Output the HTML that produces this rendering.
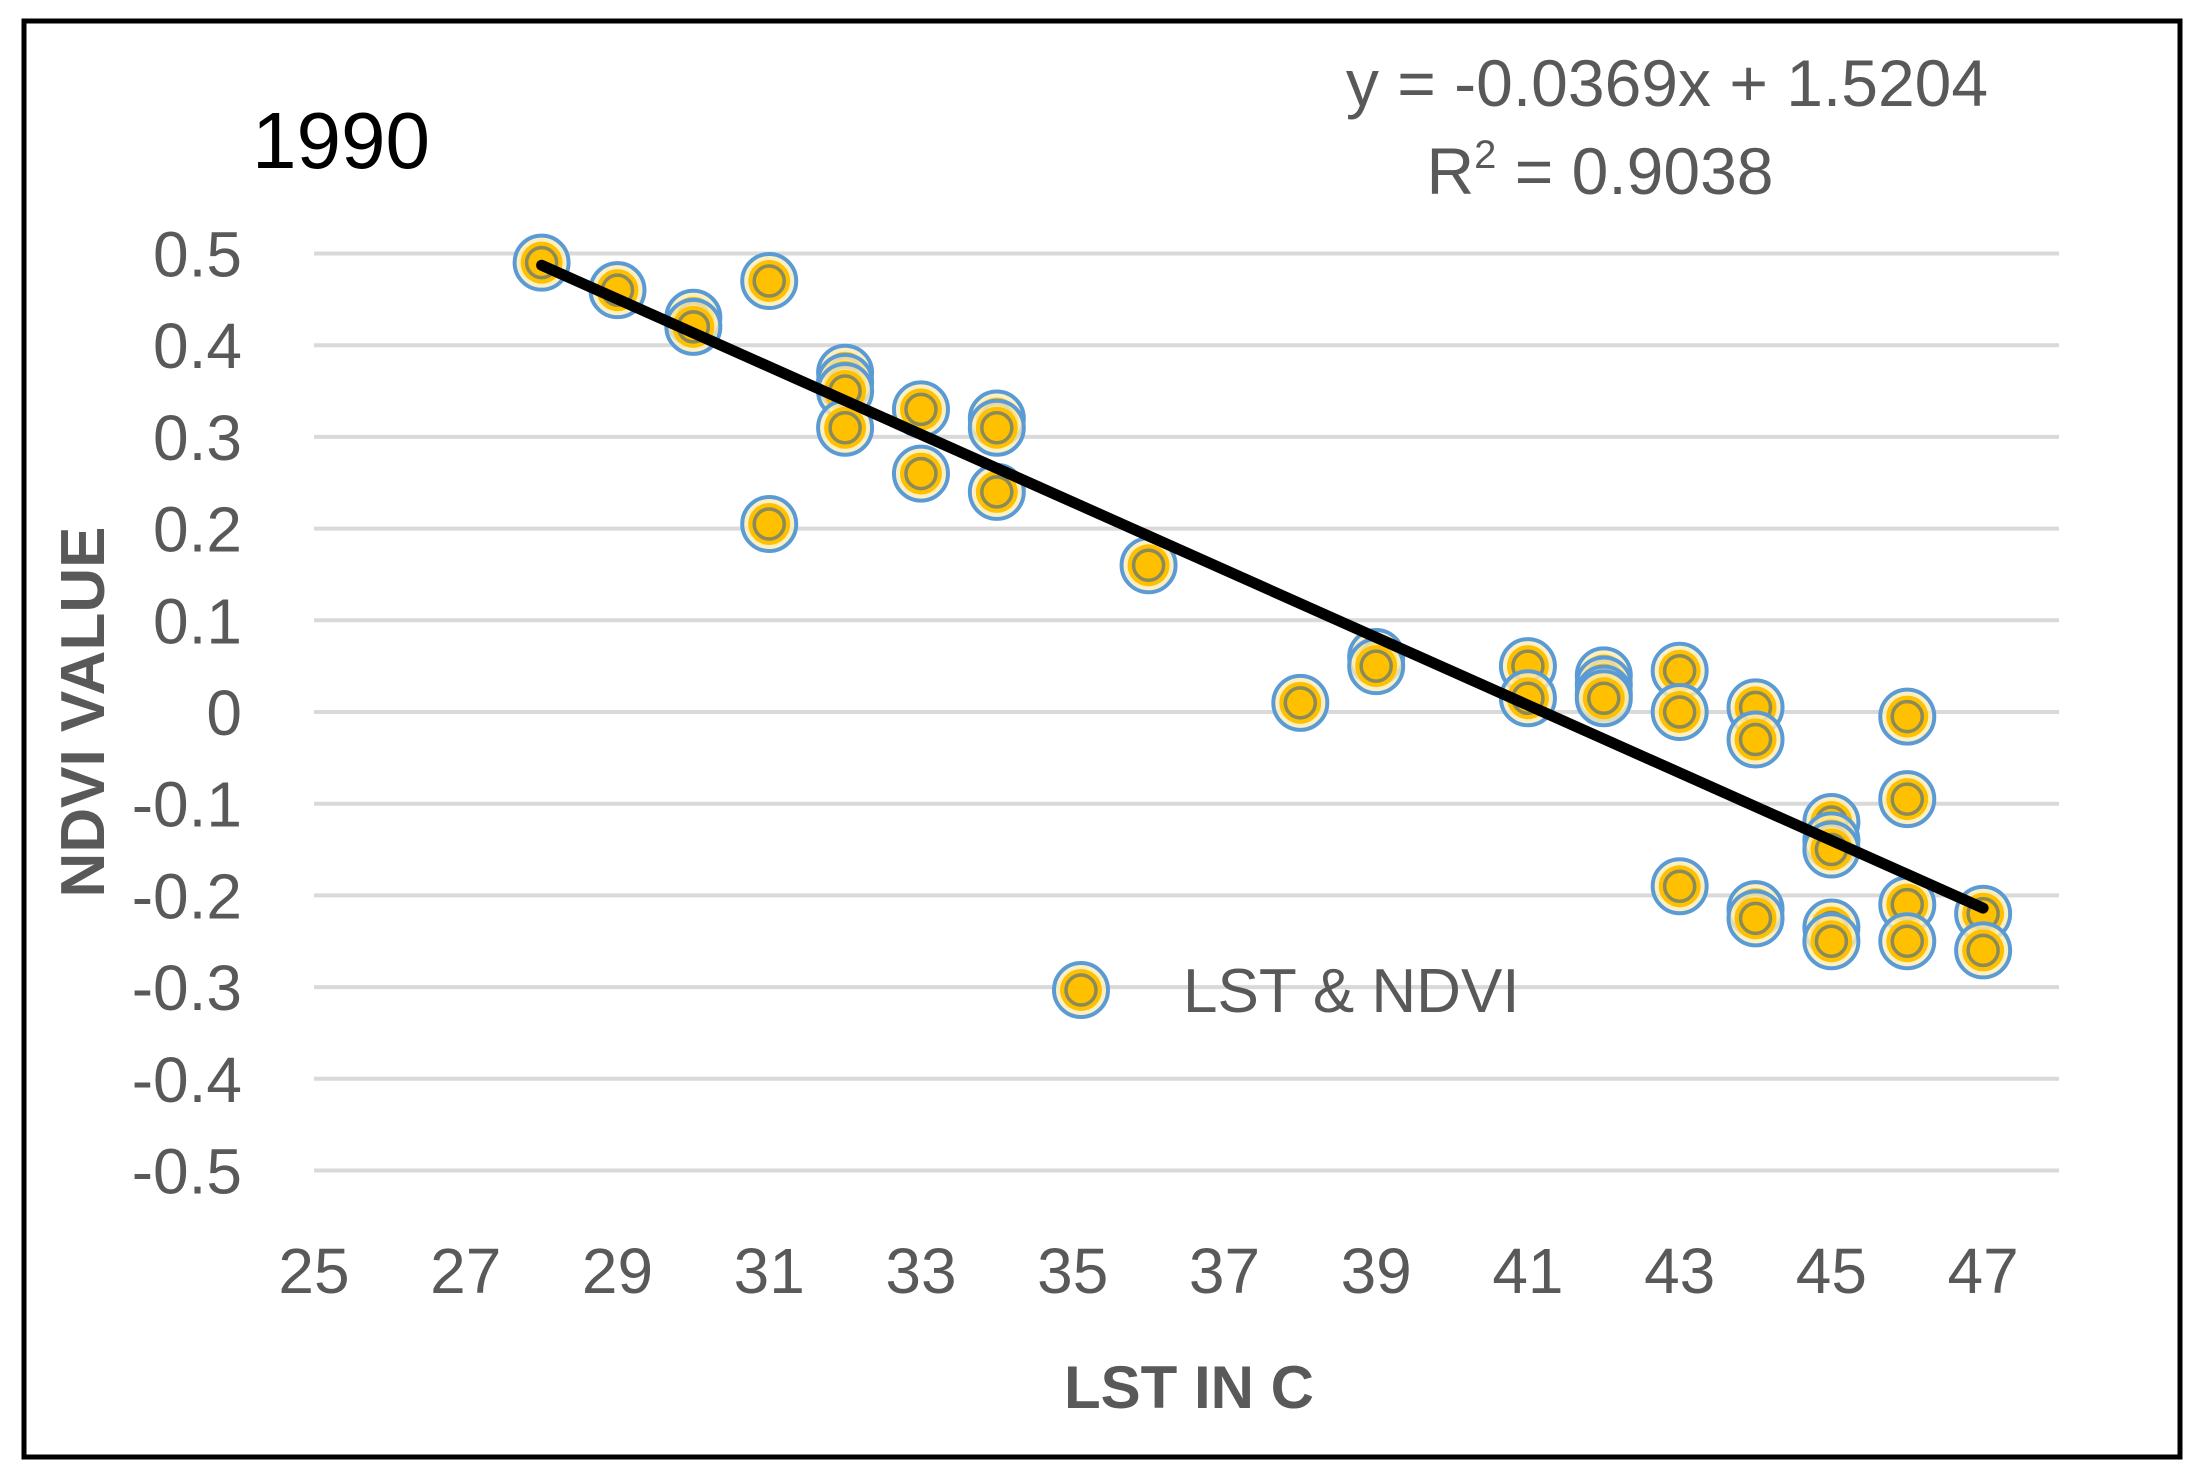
<!DOCTYPE html>
<html><head><meta charset="utf-8"><style>
html,body{margin:0;padding:0;background:#fff;}
svg{display:block;}
text{font-family:"Liberation Sans",sans-serif;}
</style></head><body>
<svg id="chart" width="2201" height="1480" viewBox="0 0 2201 1480" xmlns="http://www.w3.org/2000/svg">
<rect x="24" y="21" width="2156" height="1436" fill="#fff" stroke="#000" stroke-width="5"/>
<g id="grid"></g>
<g id="yticks"></g>
<g id="xticks"></g>
<g id="pts"></g>
<g id="trend"></g>
<text x="252" y="168" font-size="80" fill="#000">1990</text>
<text x="1667" y="106" font-size="66" fill="#595959" text-anchor="middle">y = -0.0369x + 1.5204</text>
<text x="1600" y="194" font-size="66" fill="#595959" text-anchor="middle">R<tspan font-size="40" dy="-26">2</tspan><tspan dy="26"> = 0.9038</tspan></text>
<text x="1189" y="1408" font-size="60" font-weight="bold" fill="#595959" text-anchor="middle">LST IN C</text>
<text transform="translate(104,712) rotate(-90)" font-size="62" font-weight="bold" fill="#595959" text-anchor="middle">NDVI VALUE</text>
<g>
<g id="legmark"></g>
<text x="1183" y="1012" font-size="62" fill="#595959">LST &amp; NDVI</text>
</g>
</svg>
<script>
const xTicks=[25,27,29,31,33,35,37,39,41,43,45,47];
const yTicks=[0.5,0.4,0.3,0.2,0.1,0,-0.1,-0.2,-0.3,-0.4,-0.5];
const xs=[28,29,30,30,31,31,32,32,32,32,33,33,34,34,34,36,38,39,39,41,41,42,42,42,42,43,43,43,44,44,44,44,45,45,45,45,45,46,46,46,46,47,47];
const ys=[0.49,0.46,0.43,0.42,0.47,0.205,0.37,0.36,0.35,0.31,0.33,0.26,0.32,0.31,0.24,0.16,0.01,0.06,0.05,0.05,0.015,0.04,0.03,0.02,0.015,0.045,0.0,-0.19,0.005,-0.03,-0.215,-0.225,-0.12,-0.14,-0.15,-0.235,-0.25,-0.005,-0.095,-0.21,-0.25,-0.22,-0.26];
const slope=-0.0369, intercept=1.5204;
const NS='http://www.w3.org/2000/svg';
const X=v=>314+(v-25)*75.87;
const Y=v=>712-v*917;
function mk(tag,attrs,parent){const e=document.createElementNS(NS,tag);for(const k in attrs)e.setAttribute(k,attrs[k]);parent.appendChild(e);return e;}
const grid=document.getElementById('grid'),yt=document.getElementById('yticks'),xt=document.getElementById('xticks');
yTicks.forEach(v=>{
 const l=mk('line',{x1:314,x2:2059,y1:Y(v),y2:Y(v),stroke:'#d9d9d9','stroke-width':4},grid);
 
 
 const t=mk('text',{x:242,y:Y(v)+23,'font-size':64,fill:'#595959','text-anchor':'end'},yt);
 t.textContent=String(v);
 
 
});
xTicks.forEach(v=>{
 const t=mk('text',{x:X(v),y:1293,'font-size':64,fill:'#595959','text-anchor':'middle'},xt);
 t.textContent=String(v);
 
 
});
function marker(cx,cy,parent){
 const g=mk('g',{},parent);
 mk('circle',{cx:cx,cy:cy,r:27,fill:'#fbecb4',stroke:'#5b9bd5','stroke-width':4,'fill-opacity':0.8},g);
 mk('circle',{cx:cx,cy:cy,r:21,fill:'#ffc000'},g);
 mk('circle',{cx:cx,cy:cy,r:15,fill:'#ffc000',stroke:'#8a8a5a','stroke-width':3.5},g);
 return g;
}
const pts=document.getElementById('pts');
xs.forEach((x,i)=>{
 const g=marker(X(x),Y(ys[i]),pts);
 
 
});
const lm=marker(1081,990,document.getElementById('legmark'));


const xmin=Math.min(...xs),xmax=Math.max(...xs);
const tl=mk('line',{x1:X(xmin),y1:Y(slope*xmin+intercept),x2:X(xmax),y2:Y(slope*xmax+intercept),stroke:'#000','stroke-width':11,'stroke-linecap':'round'},document.getElementById('trend'));


</script>
</body></html>
